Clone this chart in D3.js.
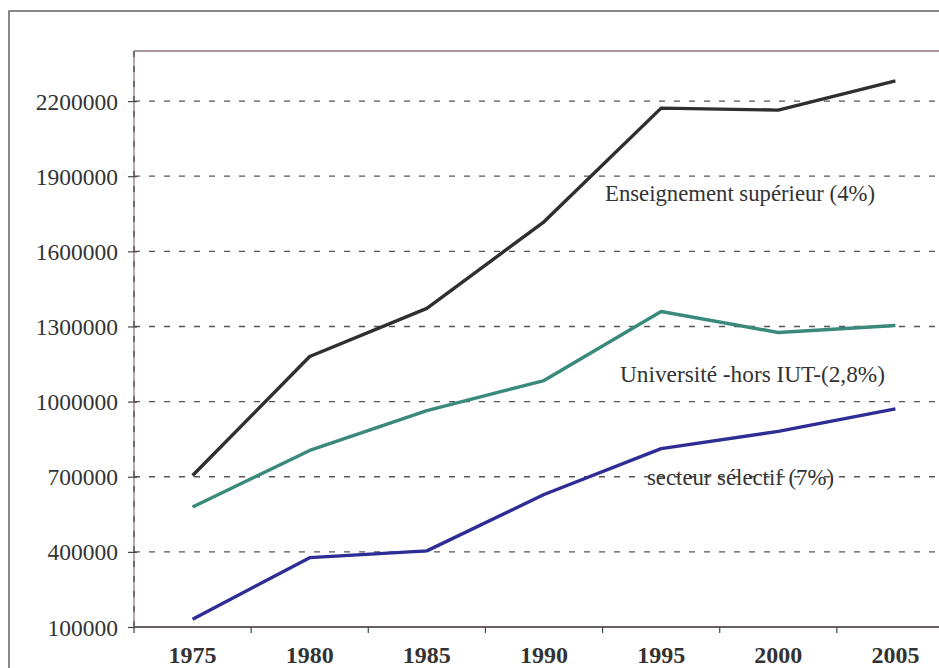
<!DOCTYPE html>
<html><head><meta charset="utf-8">
<script src="https://cdn.jsdelivr.net/npm/d3@7"></script>
<style>html,body{margin:0;padding:0;background:#fff;overflow:hidden}
text{font-family:"Liberation Serif","Times New Roman",serif}</style>
</head><body>
<svg id="c" width="939" height="668"></svg>
<script>
const years = ["1975","1980","1985","1990","1995","2000","2005"];
const enseignementSup = [705000,1180000,1372000,1718000,2172000,2164000,2281000];
const universite = [579000,805000,964000,1084000,1360000,1276000,1304000];
const secteurSelectif = [131000,377000,404000,629000,812000,881000,971000];
const yTicks = [100000,400000,700000,1000000,1300000,1600000,1900000,2200000];
const seriesLabels = ["Enseignement supérieur (4%)","Université -hors IUT-(2,8%)","secteur sélectif (7%)"];

const svg = d3.select("#c");
const L = 134, T = 51, R = 954, B = 627;
const x = d3.scaleBand().domain(years).range([L, R]).paddingInner(0).paddingOuter(0);
const y = d3.scaleLinear().domain([100000, 2400000]).range([B, T]);
const serif = '"Liberation Serif", "Times New Roman", serif';

svg.append("rect").attr("x",9).attr("y",11).attr("width",1000).attr("height",1000)
  .attr("fill","none").attr("stroke","#4a4a4a").attr("stroke-width",1.3);

svg.append("g").selectAll("line").data(yTicks.filter(d=>d>100000)).join("line")
  .attr("x1",L).attr("x2",R).attr("y1",d=>y(d)).attr("y2",d=>y(d))
  .attr("stroke","#555").attr("stroke-width",1.3).attr("stroke-dasharray","6,9");

svg.append("line").attr("x1",L).attr("x2",R).attr("y1",T).attr("y2",T)
  .attr("stroke","#a89a9a").attr("stroke-width",2);
svg.append("line").attr("x1",L).attr("x2",L).attr("y1",T).attr("y2",B)
  .attr("stroke","#b8a8a8").attr("stroke-width",2);
svg.append("line").attr("x1",L).attr("x2",L).attr("y1",T).attr("y2",B)
  .attr("stroke","#444").attr("stroke-width",1.2).attr("stroke-dasharray","6,9");

const yAxis = svg.append("g").attr("transform",`translate(${L},0)`)
  .call(d3.axisLeft(y).tickValues(yTicks).tickSize(6).tickPadding(10).tickFormat(d3.format("d")));
yAxis.attr("font-family",null).attr("font-size",null);
yAxis.select(".domain").remove();
yAxis.selectAll(".tick line").attr("stroke","#444").attr("stroke-width",1.2).attr("x2",-6).attr("x1",3);
yAxis.selectAll(".tick text").style("font-family",serif).style("font-size","23.5px").attr("fill","#333")
  .attr("dy","0.34em").attr("x",-16);

const xAxis = svg.append("g").attr("transform",`translate(0,${B})`)
  .call(d3.axisBottom(x).tickSize(0).tickPadding(0));
xAxis.attr("font-family",null).attr("font-size",null);
xAxis.select(".domain").remove();
svg.append("line").attr("x1",L).attr("x2",R).attr("y1",B).attr("y2",B)
  .attr("stroke","#6b6060").attr("stroke-width",2);
svg.append("g").selectAll("line").data(years).join("line")
  .attr("x1",d=>x(d)).attr("x2",d=>x(d)).attr("y1",B).attr("y2",B+6)
  .attr("stroke","#444").attr("stroke-width",1.2);
xAxis.selectAll(".tick text").style("font-family",serif).style("font-size","24px").style("font-weight","bold")
  .attr("fill","#333").attr("y",36).attr("dy",0);

const line = d3.line().x((d,i)=>x(years[i])+x.bandwidth()/2).y(d=>y(d));
const series = [
  {v: enseignementSup, c: "#2f2f2f"},
  {v: universite, c: "#3a8a7c"},
  {v: secteurSelectif, c: "#2d2d95"}
];
svg.append("g").selectAll("path").data(series).join("path")
  .attr("d",d=>line(d.v)).attr("fill","none").attr("stroke",d=>d.c)
  .attr("stroke-width",3.4).attr("stroke-linejoin","round").attr("stroke-linecap","butt");

const ann = [
  {t: seriesLabels[0], x: 605, v: 1800000, w: 270},
  {t: seriesLabels[1], x: 620, v: 1080000, w: 265},
  {t: seriesLabels[2], x: 647, v: 668000, w: 187}
];
svg.append("g").selectAll("text").data(ann).join("text")
  .attr("x",d=>d.x).attr("y",d=>y(d.v)).text(d=>d.t)
  .style("font-family",serif).style("font-size","22.5px").attr("fill","#333")
  .attr("textLength",d=>d.w).attr("lengthAdjust","spacingAndGlyphs");
</script>
</body></html>
